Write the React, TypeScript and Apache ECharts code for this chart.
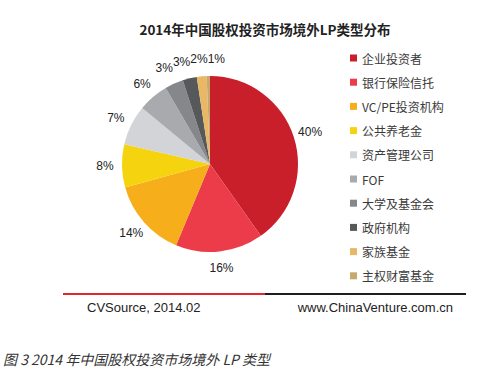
import React, { useEffect, useRef } from "react";
import * as echarts from "echarts";

const TITLE = "2014年中国股权投资市场境外LP类型分布";
const CAPTION = "图 3 2014 年中国股权投资市场境外 LP 类型";
const SOURCE_LEFT = "CVSource, 2014.02";
const SOURCE_RIGHT = "www.ChinaVenture.com.cn";

const categories = [
  "企业投资者",
  "银行保险信托",
  "VC/PE投资机构",
  "公共养老金",
  "资产管理公司",
  "FOF",
  "大学及基金会",
  "政府机构",
  "家族基金",
  "主权财富基金",
];
// share (%); labels show rounded values
const values = [40.2, 16.1, 14.4, 7.9, 7.4, 5.6, 3.4, 2.6, 1.8, 0.6];
const colors = [
  "#c81f2a",
  "#ec3c49",
  "#f6ae1b",
  "#f5d30f",
  "#d3d4d7",
  "#a9aaad",
  "#86878b",
  "#57585a",
  "#e8b866",
  "#c8a96c",
];

const CX = 210;
const CY = 164;
const R = 88;
const LABEL_R = 105;

function computeLabelPositions() {
  const total = values.reduce((a, b) => a + b, 0);
  let acc = 0;
  const pos = values.map((v) => {
    const mid = ((acc + v / 2) / total) * Math.PI * 2;
    acc += v;
    const text = Math.round(v) + "%";
    const w = (text.length - 1) * 6.7 + 10.7;
    return {
      x: CX + LABEL_R * Math.sin(mid),
      y: CY - LABEL_R * Math.cos(mid),
      w,
    };
  });
  for (let it = 0; it < 80; it++) {
    for (let i = 0; i < pos.length; i++) {
      const j = (i + 1) % pos.length;
      const a = pos[i];
      const b = pos[j];
      if (Math.abs(a.y - b.y) > 13) continue;
      const need = (a.w + b.w) / 2;
      const dx = b.x - a.x;
      if (Math.abs(dx) < need) {
        const push = (need - Math.abs(dx)) / 2;
        const s = dx >= 0 ? 1 : -1;
        a.x -= s * push;
        b.x += s * push;
      }
    }
  }
  return pos;
}

export default function App() {
  const ref = useRef<HTMLDivElement>(null);
  useEffect(() => {
    if (!ref.current) return;
    const chart = echarts.init(ref.current, undefined, { renderer: "svg" });
    const labelPos = computeLabelPositions();
    const cjk = '"Noto Sans CJK SC", "Microsoft YaHei", sans-serif';
    chart.setOption({
      animation: false,
      backgroundColor: "#ffffff",
      color: colors,
      legend: {
        orient: "vertical",
        left: 345,
        top: 47,
        icon: "rect",
        itemWidth: 7,
        itemHeight: 7,
        itemGap: 12.2,
        selectedMode: false,
        textStyle: { fontSize: 12, color: "#3a3a3a", fontFamily: cjk },
        data: categories,
      },
      series: [
        {
          type: "pie",
          center: [CX, CY],
          radius: R,
          startAngle: 90,
          clockwise: true,
          avoidLabelOverlap: false,
          itemStyle: { borderWidth: 0 },
          label: {
            show: true,
            position: "outside",
            fontSize: 12,
            color: "#222",
            fontFamily: '"Liberation Sans", Arial, sans-serif',
            formatter: (p: any) => Math.round(p.value) + "%",
          },
          labelLine: { show: false },
          labelLayout: (p: any) => {
            const lp = labelPos[p.dataIndex];
            return { x: lp.x, y: lp.y, align: "center", verticalAlign: "middle" };
          },
          data: categories.map((name, i) => ({ name, value: values[i] })),
        },
      ],
      graphic: [
        {
          type: "text",
          x: 265,
          y: 29,
          style: {
            text: TITLE,
            textAlign: "center",
            textVerticalAlign: "middle",
            font: 'bold 13.5px "Noto Sans CJK SC", sans-serif',
            fill: "#222",
          },
        },
        {
          type: "line",
          shape: { x1: 63, y1: 294, x2: 265, y2: 294 },
          style: { stroke: "#e0262e", lineWidth: 2 },
        },
        {
          type: "line",
          shape: { x1: 265, y1: 294, x2: 466, y2: 294 },
          style: { stroke: "#1e1e1e", lineWidth: 2 },
        },
        {
          type: "text",
          x: 87,
          y: 307,
          style: {
            text: SOURCE_LEFT,
            textVerticalAlign: "middle",
            font: '13px "Liberation Sans", Arial, sans-serif',
            fill: "#222",
          },
        },
        {
          type: "text",
          x: 453,
          y: 307,
          style: {
            text: SOURCE_RIGHT,
            textAlign: "right",
            textVerticalAlign: "middle",
            font: '13px "Liberation Sans", Arial, sans-serif',
            fill: "#222",
          },
        },
        {
          type: "text",
          x: 3,
          y: 359,
          style: {
            text: CAPTION,
            textVerticalAlign: "middle",
            font: 'italic 14px "Noto Sans CJK SC", sans-serif',
            fill: "#333",
          },
        },
      ],
    });
    return () => chart.dispose();
  }, []);
  return (
    <div
      ref={ref}
      style={{ position: "fixed", left: 0, top: 0, width: 493, height: 384, background: "#fff" }}
    />
  );
}
